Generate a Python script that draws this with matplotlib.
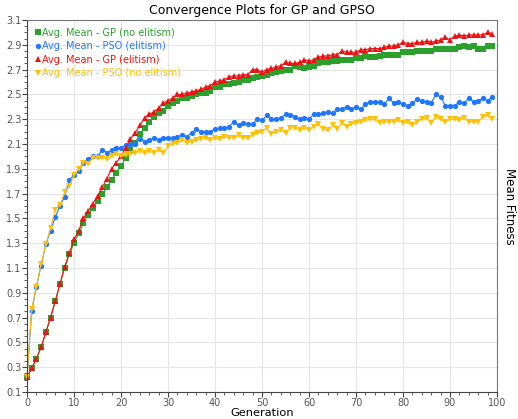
import numpy as np
import matplotlib
matplotlib.use('Agg')
import matplotlib.pyplot as plt
from matplotlib.lines import Line2D
from matplotlib.ticker import MultipleLocator

generations = np.arange(100)

gp_no_elitism = [
    0.22, 0.29, 0.37, 0.46, 0.58, 0.70, 0.83, 0.97, 1.10, 1.21,
    1.30, 1.38, 1.46, 1.53, 1.58, 1.64, 1.70, 1.75, 1.81, 1.87,
    1.92, 1.99, 2.05, 2.11, 2.18, 2.23, 2.28, 2.32, 2.35, 2.37,
    2.41, 2.43, 2.45, 2.47, 2.47, 2.49, 2.50, 2.51, 2.51, 2.53,
    2.56, 2.56, 2.58, 2.58, 2.59, 2.60, 2.62, 2.62, 2.63, 2.64,
    2.65, 2.66, 2.67, 2.68, 2.69, 2.70, 2.70, 2.73, 2.72, 2.71,
    2.72, 2.73, 2.75, 2.76, 2.76, 2.77, 2.77, 2.78, 2.78, 2.78,
    2.79, 2.79, 2.81, 2.80, 2.80, 2.81, 2.82, 2.82, 2.82, 2.82,
    2.84, 2.84, 2.84, 2.85, 2.85, 2.85, 2.85, 2.87, 2.87, 2.87,
    2.87, 2.87, 2.88, 2.89, 2.88, 2.89, 2.87, 2.87, 2.89, 2.89,
]

pso_elitism = [
    0.22, 0.75, 0.95, 1.12, 1.29, 1.40, 1.51, 1.60, 1.675, 1.81,
    1.85, 1.88, 1.95, 1.98, 2.00, 2.00, 2.05, 2.03, 2.05, 2.07,
    2.07, 2.09, 2.10, 2.10, 2.14, 2.12, 2.13, 2.15, 2.13, 2.15,
    2.15, 2.15, 2.16, 2.17, 2.16, 2.19, 2.22, 2.20, 2.20, 2.20,
    2.22, 2.23, 2.23, 2.24, 2.28, 2.25, 2.27, 2.26, 2.26, 2.30,
    2.29, 2.33, 2.30, 2.30, 2.31, 2.34, 2.33, 2.32, 2.30, 2.31,
    2.30, 2.34, 2.34, 2.35, 2.36, 2.35, 2.38, 2.38, 2.40, 2.38,
    2.40, 2.38, 2.42, 2.44, 2.44, 2.44, 2.42, 2.47, 2.43, 2.44,
    2.42, 2.41, 2.43, 2.46, 2.45, 2.44, 2.43, 2.50, 2.48, 2.41,
    2.41, 2.41, 2.44, 2.43, 2.47, 2.44, 2.45, 2.47, 2.45, 2.48,
]

gp_elitism = [
    0.22, 0.29, 0.37, 0.46, 0.58, 0.70, 0.83, 0.97, 1.11, 1.22,
    1.33, 1.40, 1.50, 1.56, 1.62, 1.68, 1.75, 1.82, 1.90, 1.95,
    2.00, 2.07, 2.14, 2.19, 2.25, 2.31, 2.34, 2.36, 2.39, 2.43,
    2.45, 2.47, 2.50, 2.50, 2.51, 2.52, 2.53, 2.54, 2.56, 2.57,
    2.60, 2.61, 2.62, 2.64, 2.65, 2.65, 2.66, 2.66, 2.70, 2.70,
    2.68, 2.70, 2.71, 2.72, 2.73, 2.76, 2.75, 2.75, 2.76, 2.78,
    2.77, 2.78, 2.80, 2.81, 2.81, 2.82, 2.82, 2.85, 2.84, 2.84,
    2.84, 2.86, 2.86, 2.87, 2.87, 2.87, 2.88, 2.89, 2.89, 2.90,
    2.92, 2.91, 2.91, 2.92, 2.92, 2.93, 2.92, 2.93, 2.94, 2.96,
    2.94, 2.97, 2.98, 2.97, 2.98, 2.98, 2.98, 2.98, 3.00, 2.99,
]

pso_no_elitism = [
    0.22, 0.77, 0.95, 1.13, 1.29, 1.42, 1.57, 1.61, 1.71, 1.76,
    1.85, 1.90, 1.95, 1.94, 1.99, 1.99, 1.99, 1.98, 2.00, 2.02,
    2.00, 2.01, 2.02, 2.03, 2.04, 2.03, 2.04, 2.03, 2.05, 2.03,
    2.08, 2.10, 2.11, 2.13, 2.11, 2.12, 2.13, 2.14, 2.15, 2.13,
    2.15, 2.14, 2.16, 2.15, 2.15, 2.17, 2.15, 2.15, 2.17, 2.19,
    2.20, 2.23, 2.18, 2.20, 2.21, 2.19, 2.23, 2.23, 2.21, 2.23,
    2.21, 2.24, 2.26, 2.22, 2.21, 2.25, 2.22, 2.27, 2.24, 2.26,
    2.27, 2.28, 2.29, 2.30, 2.30, 2.27, 2.28, 2.28, 2.28, 2.29,
    2.27, 2.28, 2.25, 2.28, 2.30, 2.31, 2.27, 2.32, 2.30, 2.28,
    2.30, 2.30, 2.29, 2.31, 2.28, 2.28, 2.28, 2.32, 2.33, 2.30,
]

series = [
    ('Avg. Mean - GP (no elitism)', gp_no_elitism, '#2ca02c', 's'),
    ('Avg. Mean - PSO (elitism)', pso_elitism, '#1f77ff', 'o'),
    ('Avg. Mean - GP (elitism)', gp_elitism, '#ee1111', '^'),
    ('Avg. Mean - PSO (no elitism)', pso_no_elitism, '#ffc000', 'v'),
]

fig = plt.figure(figsize=(5.18, 4.19), dpi=100)
ax = fig.add_axes([27 / 518, 1 - 392 / 419, 470 / 518, 372 / 419])

handles = []
for label, vals, color, marker in series:
    ax.plot(generations, vals, color=color, linewidth=0.8, marker=marker,
            markersize=3.8, markeredgewidth=0, clip_on=False)
    handles.append(Line2D([], [], color=color, marker=marker, linestyle='none',
                          markersize=3.8, markeredgewidth=0, label=label))

ax.set_xlim(0, 100)
ax.set_ylim(0.1, 3.1)
ax.xaxis.set_major_locator(MultipleLocator(10))
ax.xaxis.set_minor_locator(MultipleLocator(2))
ax.yaxis.set_minor_locator(MultipleLocator(0.05))
yticks = np.arange(0.1, 3.11, 0.2)
ax.set_yticks(yticks)
ax.set_yticklabels([f'{v:.1f}' for v in yticks])

ax.grid(True, which='major', color='#e6e6e6', linewidth=0.8)
ax.set_axisbelow(True)
ax.tick_params(which='major', direction='out', length=3.5, width=0.8,
               colors='#444444', labelsize=7, labelcolor='#555555', pad=0.6)
ax.tick_params(which='minor', direction='out', length=2, width=0.6, colors='#444444')
for side in ['left', 'bottom']:
    ax.spines[side].set_color('#444444')
for side in ['right', 'top']:
    ax.spines[side].set_color('#777777')

ax.set_title('Convergence Plots for GP and GPSO', fontsize=9, pad=4)
ax.set_xlabel('Generation', fontsize=8.2, va='bottom')
ax.xaxis.set_label_coords(0.5, -0.0712)
ax.yaxis.set_label_position('right')
ax.set_ylabel('Mean Fitness', fontsize=8.5, rotation=270, labelpad=14)

leg = ax.legend(handles=handles, loc='upper left', frameon=False, fontsize=7,
                handlelength=0.6, handletextpad=0.1, labelspacing=0.35,
                borderaxespad=0.4, labelcolor='markerfacecolor')

fig.savefig('out.png', dpi=100)
